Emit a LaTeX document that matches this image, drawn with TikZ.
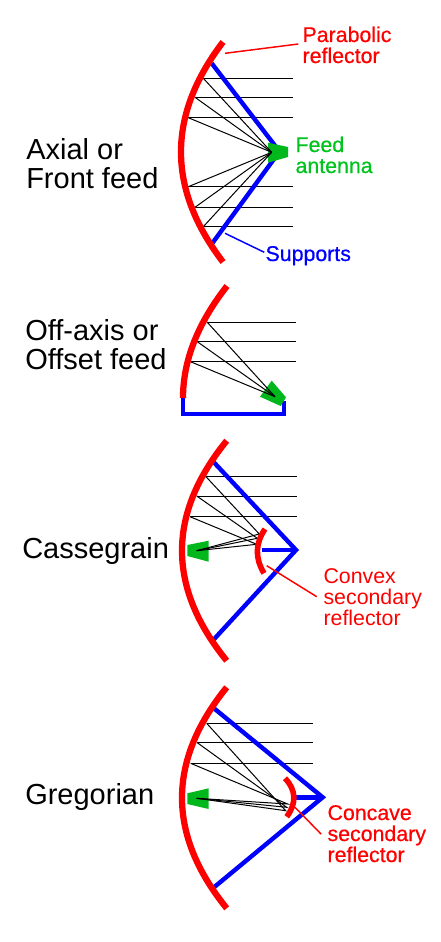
\documentclass[tikz,border=0pt]{standalone}
\usepackage{fontspec}
\setmainfont{Liberation Sans}
\newfontfamily\semibold[FakeBold=0.6]{Liberation Sans}
\definecolor{feedgreen}{RGB}{0,184,28}
\definecolor{labelgreen}{RGB}{0,195,30}
\tikzset{
  main/.style={line width=4.7pt,draw=red},
  second/.style={line width=4.2pt,draw=red},
  support/.style={line width=3.3pt,draw=blue,line join=miter},
  ray/.style={line width=0.75pt,draw=black},
  feed/.style={fill=feedgreen,draw=none},
  leader/.style={line width=1.1pt},
  biglabel/.style={anchor=base west,inner sep=0pt,align=left,font=\fontsize{21.75}{21.75}\selectfont},
  smalllabel/.style={anchor=base west,inner sep=0pt,align=left,font=\fontsize{16}{15.75}\selectfont},
  heavylabel/.style={anchor=base west,inner sep=0pt,align=left,font=\semibold\fontsize{16}{15.75}\selectfont},
}
\begin{document}
\begin{tikzpicture}[x=0.75pt,y=-0.75pt]
\useasboundingbox (0,0) rectangle (440,942);
% ---- Axial
\foreach \y/\x in {78.3/203.3,97.3/195,117.7/188.3,186.7/188.3,207.3/195,226.7/203.3}
  \draw[ray] (\x,\y) -- (293.3,\y);
\draw[support] (211.7,63.3) -- (279.5,151.5) -- (212.7,242.7);
\fill[feed] (268,142.7) -- (288,147) -- (288,157) -- (268,162.7) -- cycle;
\foreach \y/\x in {78.3/203.3,97.3/195,117.7/188.3,186.7/188.3,207.3/195,226.7/203.3}
  \draw[ray] (\x,\y) -- (271.7,152.3);
\draw[main] (223,42) .. controls (167,115.3) and (167,188.7) .. (223,262);
\node[biglabel] (axial) at (26,188) {Axial or\\Front feed};
\node[heavylabel,text=red] (parabolic) at (302.3,63) {Parabolic\\reflector};
\node[heavylabel,text=labelgreen] (feedlabel) at (295.3,173) {Feed\\antenna};
\node[heavylabel,text=blue] (supports) at (265.3,261) {Supports};
\coordinate (pEnd) at (225,53.3);
\coordinate (pStart) at (298.3,44);
\coordinate (sEnd) at (225,233.3);
\coordinate (sStart) at (264.3,252.3);
\draw[leader,red] (pStart) -- (pEnd);
\draw[leader,blue] (sStart) -- (sEnd);
% ---- Offset
\foreach \y/\x in {322/207,341.5/197,361.5/190}
  \draw[ray] (\x,\y) -- (296,\y);
\draw[support] (183,397) -- (183,414) -- (284,414) -- (284,401);
\fill[feed] (271.7,380.7) -- (286,397.3) -- (280.7,406) -- (260,396.7) -- cycle;
\foreach \y/\x in {322/207,341.5/197,361.5/190}
  \draw[ray] (\x,\y) -- (275,396.7);
\draw[main] (227,286) .. controls (197.7,323.3) and (183,360.7) .. (183,398);
\node[biglabel] (offset) at (25,369) {Off-axis or\\Offset feed};
% ---- Cassegrain
\draw[ray] (206,476.7) -- (297.3,476.7);
\draw[ray] (196.7,496) -- (297.3,496);
\draw[ray] (190,516.7) -- (297.3,516.7);
\draw[support] (213.3,461.7) -- (296,550) -- (213.3,640);
\draw[support] (296,550) -- (261.7,550);
\fill[feed] (187.3,545) -- (208.7,540.7) -- (208.7,561.7) -- (187.3,556) -- cycle;
\draw[ray] (206,476.7) -- (259.3,534) -- (196.7,550.7);
\draw[ray] (196.7,496) -- (257.3,538.3) -- (196.7,550.7);
\draw[ray] (190,516.7) -- (256.7,544.3) -- (196.7,550.7);
\draw[main] (226.7,440.7) .. controls (167.1,514) and (167.1,587.4) .. (226.7,660.7);
\draw[second] (265,529) .. controls (255,544) and (255,558) .. (264,573.3);
\node[biglabel] (cass) at (22,558) {Cassegrain};
\node[smalllabel,text=red] (convex) at (323.3,625) {Convex\\secondary\\reflector};
\coordinate (cEnd) at (266.7,565.7);
\coordinate (cStart) at (316.7,596.7);
\draw[leader,red] (cStart) -- (cEnd);
% ---- Gregorian
\draw[ray] (206.7,723.3) -- (312.7,723.3);
\draw[ray] (197.3,742.7) -- (312.7,742.7);
\draw[ray] (190.7,763.3) -- (312.7,763.3);
\draw[support] (214,708.3) -- (322.7,797.3) -- (214,887.3);
\draw[support] (322.7,797.3) -- (295,797.3);
\fill[feed] (187.3,793.3) -- (208.7,788.3) -- (208.7,809) -- (187.3,804) -- cycle;
\draw[ray] (206.7,723.3) -- (285.7,810.7) -- (196.7,798.3);
\draw[ray] (197.3,742.7) -- (286.7,807.3) -- (196.7,798.3);
\draw[ray] (190.7,763.3) -- (287.7,804) -- (196.7,798.3);
\draw[main] (226.7,687.3) .. controls (167.1,761) and (167.1,834.6) .. (226.7,908.3);
\draw[second] (285,778.3) .. controls (296.5,790) and (296.5,804) .. (286.7,816.7);
\node[biglabel] (greg) at (25,804) {Gregorian};
\node[heavylabel,text=red] (concave) at (327.3,862) {Concave\\secondary\\reflector};
\coordinate (gEnd) at (295,807.3);
\coordinate (gStart) at (321,834);
\draw[leader,red] (gStart) -- (gEnd);
\end{tikzpicture}
\end{document}
